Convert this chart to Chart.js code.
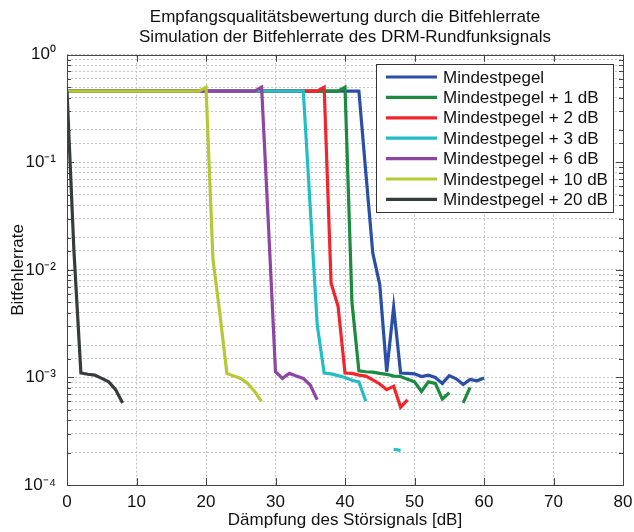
<!DOCTYPE html>
<html lang="de">
<head>
<meta charset="UTF-8">
<title>Bitfehlerrate DRM</title>
<script src="https://cdn.jsdelivr.net/npm/chart.js"></script>
<style>
  html, body { margin: 0; padding: 0; background: #fff; }
  #wrap { width: 634px; height: 532px; }
</style>
</head>
<body>
<div id="wrap"><canvas id="berChart" width="634" height="532"></canvas></div>
<script>
// Dämpfung des Störsignals in dB (x-Werte der Messpunkte)
const daempfung = [
  0, 1, 2, 3, 4, 5, 6, 7, 8, 9, 10, 11, 12, 13, 14, 15, 16, 17, 18, 19,
  20, 21, 22, 23, 24, 25, 26, 27, 28, 29, 30, 31, 32, 33, 34, 35, 36, 37, 38, 39,
  40, 41, 42, 43, 44, 45, 46, 47, 48, 49, 50, 51, 52, 53, 54, 55, 56, 57, 58, 59, 60
];

// Bitfehlerrate je Pegel (null = kein Wert / 0 im log-Plot)
const berMin = [
  0.46, 0.46, 0.46, 0.46, 0.46, 0.46, 0.46, 0.46, 0.46, 0.46,
  0.46, 0.46, 0.46, 0.46, 0.46, 0.46, 0.46, 0.46, 0.46, 0.46,
  0.46, 0.46, 0.46, 0.46, 0.46, 0.46, 0.46, 0.46, 0.46, 0.46,
  0.46, 0.46, 0.46, 0.46, 0.46, 0.46, 0.46, 0.46, 0.46, 0.46,
  0.46, 0.46, 0.46, 0.08, 0.0143, 0.0073, 0.00113, 0.0045, 0.0011, 0.00109,
  0.00108, 0.00102, 0.00105, 0.00100, 0.00088, 0.00104, 0.00097, 0.00086, 0.00096, 0.00093,
  0.00099
];
const berPlus1 = [
  0.46, 0.46, 0.46, 0.46, 0.46, 0.46, 0.46, 0.46, 0.46, 0.46,
  0.46, 0.46, 0.46, 0.46, 0.46, 0.46, 0.46, 0.46, 0.46, 0.46,
  0.46, 0.46, 0.46, 0.46, 0.46, 0.46, 0.46, 0.46, 0.46, 0.46,
  0.46, 0.46, 0.46, 0.46, 0.46, 0.46, 0.46, 0.46, 0.46, 0.46,
  0.50, 0.0050, 0.00115, 0.00113, 0.00112, 0.00109, 0.00107, 0.00103, 0.00102, 0.00096,
  0.00091, 0.00074, 0.00091, 0.00088, 0.00063, 0.00072, null, 0.00058, 0.00081
];
const berPlus2 = [
  0.46, 0.46, 0.46, 0.46, 0.46, 0.46, 0.46, 0.46, 0.46, 0.46,
  0.46, 0.46, 0.46, 0.46, 0.46, 0.46, 0.46, 0.46, 0.46, 0.46,
  0.46, 0.46, 0.46, 0.46, 0.46, 0.46, 0.46, 0.46, 0.46, 0.46,
  0.46, 0.46, 0.46, 0.46, 0.46, 0.46, 0.46, 0.50, 0.0075, 0.0046,
  0.0011, 0.00109, 0.00105, 0.00103, 0.00095, 0.00087, 0.00077, 0.00083, 0.00053, 0.00062
];
const berPlus3 = [
  0.46, 0.46, 0.46, 0.46, 0.46, 0.46, 0.46, 0.46, 0.46, 0.46,
  0.46, 0.46, 0.46, 0.46, 0.46, 0.46, 0.46, 0.46, 0.46, 0.46,
  0.46, 0.46, 0.46, 0.46, 0.46, 0.46, 0.46, 0.46, 0.46, 0.46,
  0.46, 0.46, 0.46, 0.46, 0.46, 0.038, 0.0031, 0.0011, 0.00108, 0.00104,
  0.00100, 0.00094, 0.00091, 0.00060, null, null, null, 0.000215, 0.00021
];
const berPlus6 = [
  0.46, 0.46, 0.46, 0.46, 0.46, 0.46, 0.46, 0.46, 0.46, 0.46,
  0.46, 0.46, 0.46, 0.46, 0.46, 0.46, 0.46, 0.46, 0.46, 0.46,
  0.46, 0.46, 0.46, 0.46, 0.46, 0.46, 0.46, 0.46, 0.50, 0.025,
  0.00113, 0.00098, 0.00109, 0.00103, 0.00098, 0.00085, 0.00062
];
const berPlus10 = [
  0.46, 0.46, 0.46, 0.46, 0.46, 0.46, 0.46, 0.46, 0.46, 0.46,
  0.46, 0.46, 0.46, 0.46, 0.46, 0.46, 0.46, 0.46, 0.46, 0.46,
  0.50, 0.0126, 0.0039, 0.00109, 0.00103, 0.00098, 0.00088, 0.00074, 0.00060
];
const berPlus20 = [
  0.46, 0.015, 0.0011, 0.00107, 0.00105, 0.00098, 0.00091, 0.00077, 0.00058
];

const seriesNames = [
  'Mindestpegel', 'Mindestpegel + 1 dB', 'Mindestpegel + 2 dB', 'Mindestpegel + 3 dB',
  'Mindestpegel + 6 dB', 'Mindestpegel + 10 dB', 'Mindestpegel + 20 dB'
];
const seriesValues = [berMin, berPlus1, berPlus2, berPlus3, berPlus6, berPlus10, berPlus20];
const seriesColors = ['#2a4fa6', '#1b8b3f', '#f2252b', '#22bec8', '#8e46a2', '#b6c935', '#363c3c'];

const FONT = "'Liberation Sans', Arial, sans-serif";

const datasets = seriesValues.map((vals, i) => ({
  label: seriesNames[i],
  data: vals.map((v, k) => ({ x: daempfung[k], y: v })),
  borderColor: seriesColors[i],
  backgroundColor: seriesColors[i],
  borderWidth: 3.2,
  pointRadius: 0,
  tension: 0,
  spanGaps: false,
  order: seriesValues.length - i   // letzte Kurve oben
}));

// Achsenrahmen mit innenliegenden Strichen
const axisBox = {
  id: 'axisBox',
  afterDatasetsDraw(chart) {
    const { ctx, chartArea: a, scales: { x, y } } = chart;
    ctx.save();
    ctx.strokeStyle = '#444';
    ctx.lineWidth = 1;
    ctx.beginPath();
    y.ticks.forEach(t => {
      const py = Math.round(y.getPixelForValue(t.value)) + 0.5;
      const e = Math.log10(t.value);
      const len = Math.abs(e - Math.round(e)) < 1e-9 ? 7 : 4;
      ctx.moveTo(a.left, py); ctx.lineTo(a.left + len, py);
      ctx.moveTo(a.right, py); ctx.lineTo(a.right - len, py);
    });
    x.ticks.forEach(t => {
      const px = Math.round(x.getPixelForValue(t.value)) + 0.5;
      ctx.moveTo(px, a.bottom); ctx.lineTo(px, a.bottom - 7);
      ctx.moveTo(px, a.top); ctx.lineTo(px, a.top + 7);
    });
    ctx.stroke();
    ctx.strokeRect(Math.round(a.left) + 0.5, Math.round(a.top) + 0.5,
                   Math.round(a.right - a.left), Math.round(a.bottom - a.top));
    ctx.restore();
  }
};

// Legende oben rechts im Diagramm
const boxLegend = {
  id: 'boxLegend',
  afterDraw(chart) {
    const ctx = chart.ctx;
    const left = 376.5, top = 64.5, w = 237, h = 148;
    ctx.save();
    ctx.fillStyle = '#fff';
    ctx.fillRect(left, top, w, h);
    ctx.strokeStyle = '#333';
    ctx.lineWidth = 1;
    ctx.strokeRect(left, top, w, h);
    ctx.font = '17px ' + FONT;
    ctx.textBaseline = 'middle';
    ctx.textAlign = 'left';
    chart.data.datasets.forEach((ds, i) => {
      const ry = top + 12.5 + i * 20.4;
      ctx.strokeStyle = ds.borderColor;
      ctx.lineWidth = 3.2;
      ctx.beginPath();
      ctx.moveTo(386, ry); ctx.lineTo(437, ry);
      ctx.stroke();
      ctx.fillStyle = '#111';
      ctx.fillText(ds.label, 443, ry + 1);
    });
    ctx.restore();
  }
};

const supDigits = { '0': '⁰', '1': '¹', '2': '²', '3': '³', '4': '⁴', '-': '⁻' };

new Chart(document.getElementById('berChart'), {
  type: 'line',
  data: { datasets },
  options: {
    responsive: false,
    animation: false,
    events: [],
    layout: { padding: { left: 0, right: 11, top: 0, bottom: 0 } },
    plugins: {
      legend: { display: false },
      tooltip: { enabled: false },
      title: {
        display: true,
        fullSize: false,
        text: ['Empfangsqualitätsbewertung durch die Bitfehlerrate',
               'Simulation der Bitfehlerrate des DRM-Rundfunksignals'],
        color: '#111',
        font: { family: FONT, size: 17, weight: 'normal', lineHeight: 1.2 },
        padding: { top: 7, bottom: 7 }
      }
    },
    scales: {
      x: {
        type: 'linear',
        min: 0,
        max: 80,
        ticks: {
          stepSize: 10,
          color: '#111',
          padding: 7,
          maxRotation: 0,
          font: { family: FONT, size: 17 }
        },
        grid: { color: '#c4c4c4', drawTicks: false },
        border: { display: false, dash: [2, 2] },
        title: {
          display: true,
          text: 'Dämpfung des Störsignals [dB]',
          color: '#111',
          font: { family: FONT, size: 17 },
          padding: { top: 0, bottom: 1 }
        },
        afterFit(s) { s.height = 47; s.paddingLeft = 0; s.paddingRight = 0; }
      },
      y: {
        type: 'logarithmic',
        min: 1e-4,
        max: 1,
        ticks: {
          autoSkip: false,
          color: '#111',
          padding: 11,
          font: { family: FONT, size: 17 },
          callback(v) {
            const e = Math.log10(v);
            if (Math.abs(e - Math.round(e)) > 1e-9) return '';
            return '10' + String(Math.round(e)).split('').map(c => supDigits[c]).join('');
          }
        },
        grid: { color: '#c4c4c4', drawTicks: false },
        border: { display: false, dash: [2, 2] },
        title: {
          display: true,
          text: 'Bitfehlerrate',
          color: '#111',
          font: { family: FONT, size: 17 },
          padding: { top: 8, bottom: 0 }
        },
        afterFit(s) { s.width = 67; s.paddingTop = 0; s.paddingBottom = 0; }
      }
    }
  },
  plugins: [axisBox, boxLegend]
});
</script>
</body>
</html>
